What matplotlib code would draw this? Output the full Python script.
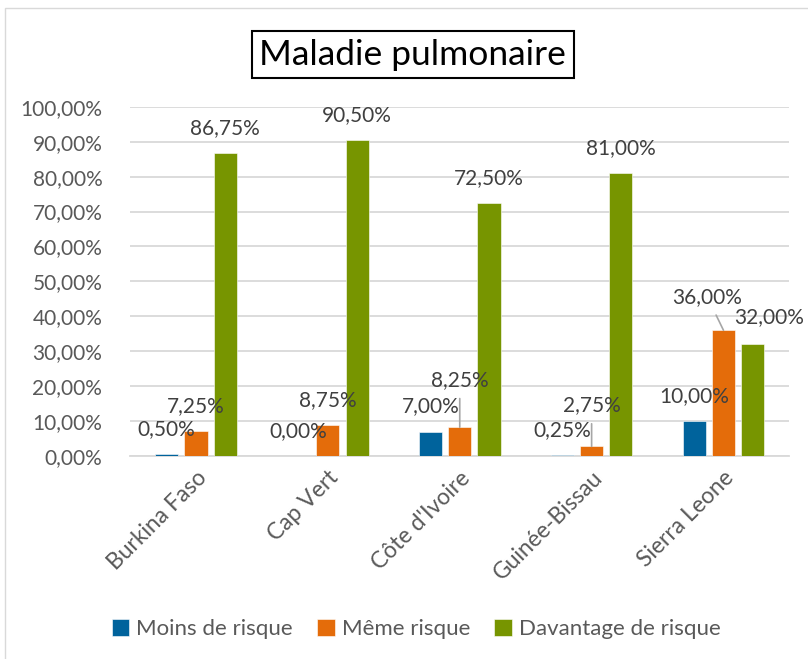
import matplotlib.pyplot as plt
from matplotlib.patches import Rectangle
from matplotlib.ticker import FuncFormatter

plt.rcParams['font.family'] = ['Lato', 'DejaVu Sans']

pays = ['Burkina Faso', 'Cap Vert', "Côte d'Ivoire", 'Guinée-Bissau', 'Sierra Leone']
series = ['Moins de risque', 'Même risque', 'Davantage de risque']
moins = [0.50, 0.00, 7.00, 0.25, 10.00]
meme = [7.25, 8.75, 8.25, 2.75, 36.00]
davantage = [86.75, 90.50, 72.50, 81.00, 32.00]
couleurs = ['#00639C', '#E46C0A', '#779500']

# decalage des etiquettes (pixels) quand elles ont ete deplacees dans Excel
decalages = {(1, 2): (0, 47), (1, 3): (0, 41), (1, 4): (-16, 33), (2, 4): (16, 27)}

def fmt(v):
    return f'{v:.2f}'.replace('.', ',') + '%'

fig = plt.figure(figsize=(8.08, 6.59), dpi=100)
fig.patches.append(Rectangle((5 / 808, -0.1), 1.2, 1.1 - 8 / 659, transform=fig.transFigure,
                             fill=False, edgecolor='#D9D9D9', linewidth=1))
ax = fig.add_axes([0.161, 0.308, 0.816, 0.53])

largeur = 0.175
pas = 0.222
for j, valeurs in enumerate([moins, meme, davantage]):
    xs = [i + (j - 1) * pas for i in range(len(pays))]
    ax.bar(xs, valeurs, largeur, color=couleurs[j], label=series[j],
           edgecolor='white', linewidth=0.4, zorder=3)
    for i, v in enumerate(valeurs):
        dx, dy = decalages.get((j, i), (0, 25))
        fleche = None
        if (j, i) in decalages and dy > 30:
            fleche = dict(arrowstyle='-', color='#A6A6A6', lw=1.2, shrinkA=4, shrinkB=0)
        ax.annotate(fmt(v), (xs[i], v), xytext=(dx, dy), textcoords='offset pixels',
                    ha='center', va='center', fontsize=15, color='#404040',
                    arrowprops=fleche, zorder=4)

ax.set_xlim(-0.5, 4.5)
ax.set_ylim(0, 100)
ax.set_yticks(range(0, 101, 10))
ax.yaxis.set_major_formatter(FuncFormatter(lambda v, p: fmt(v)))
ax.set_xticks(range(len(pays)))
ax.set_xticklabels(pays, rotation=45, ha='right', rotation_mode='anchor', fontsize=16.5)
ax.tick_params(axis='both', length=0, labelcolor='#595959')
ax.tick_params(axis='y', pad=20, labelsize=15)
ax.tick_params(axis='x', pad=8)
ax.grid(axis='y', color='#D9D9D9', linewidth=1.3, zorder=0)
for s in ['top', 'right', 'left']:
    ax.spines[s].set_visible(False)
ax.spines['bottom'].set_color('#D9D9D9')
ax.spines['bottom'].set_linewidth(1.3)

fig.text(0.511, 0.917, 'Maladie pulmonaire', ha='center', va='center', fontsize=25.5,
         color='black', bbox=dict(boxstyle='square,pad=0.22', facecolor='white',
                                  edgecolor='black', linewidth=1.5))

fig.legend(loc='center', bbox_to_anchor=(0.515, 0.045), ncol=3, frameon=False,
           fontsize=16, handlelength=0.8, handleheight=0.8, handletextpad=0.3,
           columnspacing=1.1, labelcolor='#595959')

fig.savefig('out.png', dpi=100)
